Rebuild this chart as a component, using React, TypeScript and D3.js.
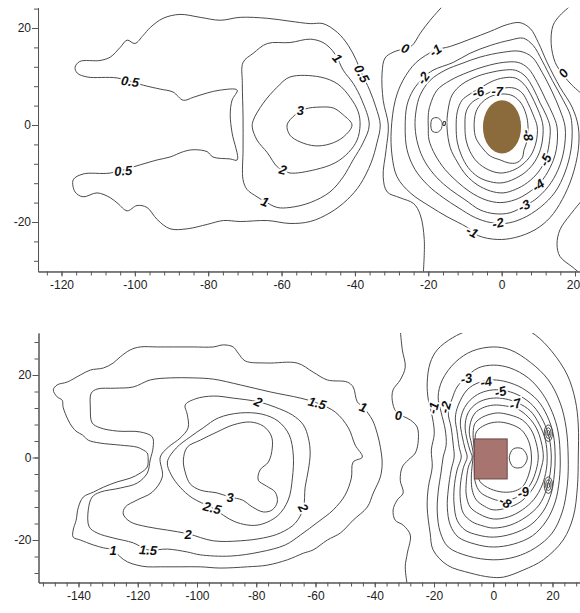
import React, { useEffect, useRef } from "react";
import * as d3 from "d3";

type Pt = [number, number];

const FONT = "'Liberation Sans', Arial, sans-serif";

// ---------- upper panel: round pile ----------
const topXLabels = [-120, -100, -80, -60, -40, -20, 0, 20];
const topYLabels = [-20, 0, 20];
const topXExtent = [-126.4, 21.5];
const topYExtent = [-30.2, 24.2];

const topC05: Pt[] = [[-33.1,0],[-34.3,3.7],[-36,7.2],[-38.3,10.9],[-39.6,13.3],[-41.8,16.4],[-44.8,19.1],[-48.7,20.9],[-52.2,20.9],[-57.7,21.4],[-63.9,22],[-71.3,22.2],[-76.7,21.6],[-82.2,22.2],[-87.7,22.8],[-92.3,22],[-95.8,20.1],[-97.7,18.5],[-100,16.8],[-102.1,17.5],[-104,16],[-106.7,14],[-109.5,13.3],[-115,13.1],[-116.3,11.9],[-115.7,10.7],[-113,9.9],[-104.8,9.7],[-97.7,8.2],[-93.1,7.4],[-89.6,6.8],[-86.8,5.1],[-84.1,5.7],[-80.3,6.6],[-76.7,7.2],[-72.1,7.2],[-73.5,5.1],[-74,2.1],[-73.5,-1.6],[-72.1,-7.2],[-74,-7],[-78.7,-6.6],[-80.3,-5.5],[-84.1,-5.1],[-86.8,-5.5],[-90.4,-6.6],[-93.9,-7.2],[-98.5,-8.2],[-106.7,-9.9],[-114.1,-10.1],[-116.8,-11.3],[-116.3,-13.8],[-114.1,-14.8],[-110.3,-14],[-106.7,-15],[-104.6,-16.2],[-102.1,-17.7],[-99.4,-16.6],[-96.7,-17],[-93.9,-19.5],[-90.4,-21.4],[-85.7,-21.4],[-80.3,-20.5],[-75.9,-19.7],[-71.3,-19.9],[-63.9,-19.7],[-57.7,-20.3],[-52.2,-19.9],[-46.8,-18.1],[-42.1,-15.4],[-38.6,-12.3],[-35.6,-7.8],[-34,-3.7]];
const topC1: Pt[] = [[-57.7,17],[-52.2,17.7],[-48.7,17],[-46.2,15.4],[-44.8,13.8],[-43.2,11.3],[-40.5,8.6],[-38.1,5.1],[-36.1,0],[-37.8,-3.7],[-40.5,-7.2],[-43.2,-10.7],[-46.8,-13.8],[-52.2,-16],[-57.7,-17],[-61.2,-17],[-64.5,-15.8],[-66.7,-14.8],[-69.4,-13.3],[-70.5,-11.3],[-70.5,-5.1],[-70.5,1.6],[-70.7,8.6],[-70.5,12.9],[-67.7,14.8],[-63.9,16.8]];
const topC2: Pt[] = [[-57.7,9.9],[-49.5,9.9],[-44.6,8.4],[-41.3,5.7],[-39.1,2.7],[-38.6,0],[-39.4,-3.1],[-41.8,-5.7],[-45.4,-7.8],[-50.8,-9.2],[-57.7,-9.9],[-59.6,-9.2],[-61.2,-8.6],[-63.9,-5.7],[-66.7,-3.1],[-68,-0.4],[-67.7,1],[-65,4.5],[-61.2,7.8]];
const topC3: Pt[] = [[-58.5,0],[-56.3,2.1],[-53.6,3.3],[-49.5,3.7],[-45.9,3.5],[-43.2,2.1],[-40.8,0],[-43.2,-2.5],[-46.8,-3.9],[-50.8,-4.3],[-54.9,-3.5],[-57.7,-2.1]];
const topZeroLeft: Pt[] = [[-15.5,25],[-19.5,21.6],[-22.2,18.9],[-24.4,16.4],[-26.3,15.8],[-29.6,15],[-31.8,13.8],[-32.6,10.7],[-32.3,5.1],[-30.9,0],[-31.5,-5.1],[-32.3,-10.7],[-31.2,-13.8],[-27.7,-15],[-24,-16.2],[-22.2,-18.5],[-21.1,-23.6],[-21.4,-31]];
const topZeroRightA: Pt[] = [[19.5,25],[15.9,22.6],[14,20.5],[13.5,16.8],[14.6,12.9],[16.8,10.3],[19.2,8.2],[22.5,6]];
const topZeroRightB: Pt[] = [[22.5,-15],[18.7,-18.5],[15.9,-21.6],[15.1,-24.6],[15.9,-27.1],[19.5,-29.4],[22,-31]];
const topM1: Pt[] = [[-18.1,15.4],[-14,16.2],[-8.6,17.7],[-3.1,19.3],[1.5,20.7],[5,21.1],[7.8,19.9],[10,17],[12.4,12.9],[15.9,7.8],[19.2,3.7],[20.9,-0.4],[20.9,-5.1],[19.2,-10.7],[16.5,-15.4],[13.2,-19.1],[9.1,-21.6],[3.7,-23.2],[-1.2,-23.6],[-6.4,-22.8],[-9.4,-21.1],[-14.9,-18.9],[-19.5,-16.8],[-24.9,-14],[-28.5,-10.7],[-29.9,-6.2],[-30.1,-1],[-29,5.1],[-26.9,9.2],[-23.3,12.9]];
const topM2: Pt[] = [[-21.4,9.7],[-18.7,11.3],[-13.2,12.9],[-8.6,14.8],[-3.1,16.4],[2.3,17.5],[5.9,17.9],[8.6,16.4],[11,13.3],[13.8,9.2],[16.8,5.1],[18.7,2.1],[19.2,-0.4],[18.9,-5.1],[17.3,-9.7],[14.6,-13.8],[10.5,-17],[5.6,-19.3],[1,-20.3],[-3.1,-20.1],[-7.2,-19.1],[-11.9,-17],[-15.9,-15],[-20,-12.5],[-23.6,-9.2],[-25.8,-5.1],[-26.3,-0.4],[-25.8,4.1],[-24.1,7.2]];
const topM3: Pt[] = [[-22.2,6.2],[-19.5,9.2],[-15.4,11.3],[-10.8,12.7],[-5.9,14],[0.4,15],[5,15.2],[8.3,14],[11,10.9],[13.8,6.8],[15.9,3.1],[17.3,-0.4],[17,-5.1],[15.4,-9.2],[12.7,-12.7],[9.1,-15.4],[6.4,-16.6],[2.3,-18.1],[-1.8,-18.3],[-5.9,-17.5],[-10,-15.4],[-14,-13.3],[-17.6,-10.9],[-20.9,-7.6],[-22.8,-4.1],[-23.6,-0.4],[-23.3,3.1]];
const topM4: Pt[] = [[-19.5,4.1],[-17.6,7.2],[-14,9.2],[-9.1,10.9],[-4.5,12.1],[0.4,12.9],[4.5,12.9],[7.2,11.7],[9.7,8.8],[12.1,5.1],[14,2.1],[15.1,-0.4],[14.9,-5.1],[13.2,-8.8],[10.5,-11.9],[7.2,-14],[3.7,-15.4],[-0.4,-16],[-4.5,-15.4],[-8.6,-13.8],[-12.1,-11.7],[-15.4,-9.2],[-18.1,-6.2],[-19.8,-3.1],[-20,-0.4],[-20,2.1]];
const topM5: Pt[] = [[-14.6,3.1],[-13.5,6.2],[-10.8,8.4],[-6.4,10.1],[-2.6,10.9],[0.4,11.3],[3.7,11.3],[6.4,10.1],[8.6,7.6],[10.5,4.5],[12.1,2.1],[13.2,-0.4],[12.9,-4.1],[11.9,-7.2],[10,-9.7],[7,-11.9],[3.7,-13.3],[0.4,-14],[-3.1,-13.6],[-6.7,-12.3],[-9.7,-10.3],[-12.1,-7.6],[-14,-4.7],[-14.9,-0.4]];
const topM6: Pt[] = [[-12.4,-0.4],[-12.1,2.7],[-10.8,5.1],[-8.6,6.4],[-5.9,7.6],[-2.6,9],[0.4,9.7],[3.7,9.7],[6.1,8.4],[8,6.2],[9.7,3.5],[10.8,1.4],[11.3,-0.4],[11,-3.7],[10,-6.2],[8,-8.6],[5,-10.5],[0.4,-11.9],[-3.1,-11.7],[-6.4,-10.7],[-9.1,-8.8],[-11,-6.2],[-12.1,-3.5]];
const topM7: Pt[] = [[-10,-0.4],[-9.7,2.7],[-8.3,4.5],[-5.9,5.7],[-3.1,6.8],[0.4,7.6],[3.4,7.6],[5.6,6.6],[7.2,4.5],[8.6,2.1],[9.7,-0.4],[9.4,-3.5],[8,-6.2],[5.6,-8.2],[2.9,-9.4],[-0.4,-9.9],[-3.7,-9.2],[-6.7,-7.6],[-8.6,-5.5],[-9.7,-3.1]];
const topM8: Pt[] = [[-7.5,-0.4],[-7,2.7],[-5.3,4.7],[-2.6,6],[0.4,6.4],[3.1,6],[5.3,4.5],[6.7,2.1],[7.2,-0.4],[7,-3.1],[6.1,-5.1],[5.6,-6.8],[4,-7.8],[1.8,-7.8],[-0.4,-7.2],[-3.1,-6.4],[-5.3,-4.7],[-7,-2.7]];
const topDLoop: Pt[] = [[-19,1.2],[-17.5,1.5],[-16.4,0.7],[-16.4,-0.7],[-17.5,-1.5],[-19,-1.2]];

const topLabels = [
  { t: "0.5", x: -101.3, y: 9.0, r: 8 },
  { t: "0.5", x: -103.2, y: -9.4, r: -4 },
  { t: "0.5", x: -38.1, y: 10.6, r: 62 },
  { t: "1", x: -44.8, y: 13.8, r: 50 },
  { t: "1", x: -64.5, y: -15.8, r: 20 },
  { t: "2", x: -59.6, y: -9.2, r: 15 },
  { t: "3", x: -54.9, y: 3.1, r: 0 },
  { t: "0", x: -26.3, y: 15.8, r: 20 },
  { t: "-1", x: -18.1, y: 15.4, r: -35 },
  { t: "-2", x: -21.4, y: 9.7, r: -55 },
  { t: "-6", x: -6.4, y: 6.8, r: -15 },
  { t: "-7", x: -1.2, y: 7.0, r: 0 },
  { t: "-8", x: 7.2, y: -2.1, r: 80 },
  { t: "-5", x: 11.9, y: -7.2, r: -65 },
  { t: "-4", x: 9.9, y: -12.4, r: -35 },
  { t: "-3", x: 6.1, y: -16.6, r: -25 },
  { t: "-2", x: -1.0, y: -20.2, r: -12 },
  { t: "-1", x: -8.0, y: -22.0, r: 28 },
  { t: "0", x: 16.8, y: 10.7, r: -55 },
  { t: "0", x: -15.7, y: 0.3, r: 0, s: 8 },
];
const topPile = { cx: 0.1, cy: -0.4, rx: 5.2, ry: 5.5 };

// ---------- lower panel: square pile ----------
const botXLabels = [-140, -120, -100, -80, -60, -40, -20, 0, 20];
const botYLabels = [-20, 0, 20];
const botXExtent = [-153.5, 29.5];
const botYExtent = [-30.3, 30.2];

const botC1: Pt[] = [[-148.5,16.4],[-147.2,17.6],[-143.8,18.3],[-139.4,20],[-136,21.2],[-131.6,21.7],[-128.3,22.9],[-125.9,24.4],[-122.5,26.1],[-119.2,26.8],[-113.4,26.8],[-108,26.8],[-101.3,26.8],[-94.5,26.8],[-91.1,27.3],[-87.8,26.8],[-86.1,25.3],[-83.7,23.4],[-76.3,22.9],[-66.2,22.9],[-60.8,20.7],[-56,18.8],[-49.3,18.3],[-47.3,17.1],[-45.9,13.5],[-43.9,12.2],[-40.8,9.1],[-39.2,5.9],[-38.1,2.5],[-37.5,-1.3],[-38.1,-4.7],[-40.5,-8.6],[-42.5,-12],[-47.3,-15.2],[-51.6,-18.3],[-56,-20],[-60.8,-22.4],[-64.1,-23.2],[-69.5,-24.8],[-76.3,-26.1],[-83,-26.5],[-92.2,-26.8],[-98.9,-26.5],[-105.7,-26.5],[-112.4,-26.5],[-116.8,-26.5],[-120.2,-26.1],[-123.5,-25.3],[-125.9,-24.1],[-128.3,-22.4],[-131.6,-21.9],[-135,-21.2],[-139.4,-20],[-141.8,-19.3],[-141.8,-17.6],[-140.8,-15.2],[-140.1,-12.2],[-138.4,-9.6],[-135,-8.4],[-131.6,-7.2],[-126.9,-5.9],[-122.5,-5],[-119.2,-3.8],[-116.8,-2.3],[-116.5,-0.1],[-116.8,1.1],[-118.1,1.8],[-120.2,2.5],[-125.9,3],[-132.7,3.5],[-136.7,4.2],[-138.7,5.5],[-140.5,6.2],[-142.1,7.4],[-143.5,9.1],[-145.2,12.2],[-145.5,13.9],[-147.2,14.7]];
const botC15: Pt[] = [[-115.8,18.8],[-109,19.3],[-101.3,19.3],[-94.5,19],[-85.4,17.6],[-75.3,15.9],[-65.1,14.4],[-59.4,13.2],[-53.3,11],[-48.9,7.2],[-46.6,3],[-44.2,0.1],[-47.3,-1.1],[-47.9,-5],[-50,-9.1],[-54,-12.7],[-59.1,-15.6],[-65.1,-18.8],[-70.2,-21.2],[-78.7,-22.9],[-88.8,-23.9],[-98.9,-23.6],[-103.3,-22.9],[-110,-22.2],[-116.5,-22.4],[-121.5,-20.7],[-128.3,-19.5],[-133.7,-18.3],[-136.4,-16.8],[-136.7,-12.7],[-135.4,-9.6],[-132.7,-8.4],[-125.9,-7.4],[-120.2,-6.2],[-116.8,-3.8],[-115.8,-0.6],[-114.8,2.5],[-115.1,5],[-119.2,6.2],[-126.9,6.4],[-132.7,7.2],[-135.4,8.4],[-136,12],[-135.7,15.6],[-133.7,16.6],[-127.6,16.8],[-121.5,17.1]];
const botC2: Pt[] = [[-112.4,0.1],[-109.7,2.5],[-105.7,4.7],[-103,7.2],[-103.3,10.5],[-104,12.7],[-100.6,14.2],[-94.5,14.9],[-87.8,14.4],[-79.3,13.5],[-73.6,12.2],[-67.8,10.3],[-64.1,7.9],[-62.4,4.7],[-61.8,1.1],[-62.4,-3],[-63.5,-7.2],[-64.1,-12.2],[-66.8,-15.9],[-71.9,-18.3],[-77.6,-19.5],[-85.4,-20.2],[-94.5,-20.2],[-103,-18.5],[-110,-17.6],[-116.8,-16.8],[-122.5,-15.6],[-124.9,-13.7],[-124.2,-12],[-120.2,-10.3],[-115.1,-8.4],[-111.7,-4.7]];
const botC25: Pt[] = [[-110,-1.1],[-107,2.3],[-102.3,5],[-97.9,7.2],[-92.8,9.6],[-85.4,10.8],[-78,10.5],[-72.6,8.8],[-68.9,5.5],[-67.5,0.6],[-67.8,-5],[-69.2,-10.3],[-72.9,-14.2],[-79.7,-16.4],[-87.1,-15.6],[-94.9,-12.2],[-101.6,-9.8],[-105.7,-7.2],[-108.7,-4.2]];
const botC3: Pt[] = [[-104.6,-0.6],[-103.3,2.5],[-98.9,4.2],[-93.2,6.2],[-87.8,7.9],[-82,8.6],[-77.6,7.6],[-74.9,5.2],[-74.6,2.3],[-75.9,-1.1],[-78.7,-3],[-79.3,-5.5],[-76.6,-6.9],[-73.6,-8.4],[-72.9,-10.8],[-74.6,-12.7],[-77.6,-13.2],[-81.3,-12],[-84.7,-10.3],[-88.8,-9.6],[-93.2,-8.6],[-98.9,-7.9],[-102.3,-6.4],[-104,-3.5]];
const botZero: Pt[] = [[-31.4,31],[-30.7,26.1],[-29.7,21.9],[-31.4,18.8],[-33.8,16.4],[-34.1,13.9],[-32.7,11],[-28,9.1],[-25.7,7.4],[-25.3,4.2],[-26.3,1.1],[-28.7,-0.6],[-30.7,-2.3],[-31.4,-5.5],[-30.4,-8.6],[-32.4,-10.3],[-33.8,-12.7],[-33.1,-15.2],[-30.4,-16.4],[-28,-18.8],[-29,-23.2],[-29.7,-26.5],[-29,-31]];
const botM1: Pt[] = [[-21.3,22.9],[-22.3,18.1],[-21.9,13.9],[-20.9,11],[-19.9,5.9],[-20.9,1.8],[-20.6,-2.3],[-21.9,-7.2],[-22.3,-12],[-21.3,-18.3],[-20.3,-22.4],[-15.5,-26.1],[-7.8,-28],[-1,-29],[3.4,-29],[10.1,-27.3],[16.9,-24.8],[23.6,-20],[27,-14.4],[28.4,-7.2],[28.7,0.1],[28.7,7.9],[27.7,13.9],[25,20],[19.9,25.6],[14.2,29.7],[7.4,32.1],[-1,31.6],[-7.8,30.9],[-13.8,29],[-18.9,26.1]];
const botM2: Pt[] = [[-17.2,18.8],[-18.6,14.7],[-17.6,11],[-16.2,6.7],[-15.9,3],[-16.9,0.1],[-17.6,-3.5],[-18.6,-8.4],[-18.9,-13.2],[-17.9,-18.1],[-15.2,-21.7],[-8.4,-23.9],[0,-24.8],[7.4,-24.1],[14.2,-21.9],[19.9,-18.3],[23.3,-13.2],[25,-6.7],[25.3,0.1],[24.6,7.2],[22.6,13.2],[18.6,18.8],[12.5,23.1],[5.7,26.1],[0,26.8],[-7.1,25.8],[-12.8,23.1]];
const botM3: Pt[] = [[-13.8,14.4],[-15.2,11],[-14.2,7.2],[-13.5,3],[-13.2,0.1],[-14.2,-3],[-15.2,-7.9],[-15.5,-12.2],[-14.5,-16.4],[-11.8,-19.3],[-6.1,-21],[0,-21.7],[6.8,-21],[13.2,-19],[17.9,-15.4],[20.9,-10.8],[22.3,-5.5],[22.6,0.1],[21.9,6.2],[19.9,11],[16.5,15.6],[11.8,19.3],[5.7,21.7],[0,22.4],[-5.1,21.7],[-9.1,19.5],[-12.2,17.1]];
const botM4: Pt[] = [[-11.8,12.7],[-12.8,9.6],[-12.2,6.2],[-11.5,2.5],[-10.8,0.1],[-12.2,-3],[-13.2,-7.4],[-13.2,-11.5],[-12.2,-15.2],[-9.5,-17.6],[-5.1,-18.8],[0,-19.3],[6.4,-18.5],[12.5,-16.4],[16.9,-13],[19.6,-8.6],[20.6,-4.2],[20.9,0.1],[20.3,5.5],[18.2,10.1],[14.9,13.9],[9.8,16.8],[4.7,18.3],[0,18.8],[-5.1,18.1],[-8.8,16.4]];
const botM5: Pt[] = [[-10.1,11.5],[-11.1,8.6],[-10.5,5.2],[-9.5,2.1],[-8.8,0.1],[-10.1,-2.5],[-11.1,-6.7],[-11.1,-10.3],[-10.1,-13.5],[-7.1,-15.6],[-3.4,-16.6],[0,-17.1],[5.7,-16.4],[11.1,-14.4],[15.5,-11.5],[17.9,-7.9],[19.2,-3.8],[19.6,0.1],[18.9,4.7],[16.9,8.8],[13.5,12.5],[9.1,14.9],[4.7,16.1],[0,16.4],[-4.4,15.6],[-7.8,13.9]];
const botM6: Pt[] = [[-8.8,10.3],[-9.5,7.4],[-8.8,4.2],[-7.8,1.6],[-7.1,0.1],[-8.4,-2.3],[-9.1,-5.9],[-9.1,-9.1],[-7.8,-12],[-4.7,-13.7],[0,-14.9],[5.1,-14.4],[9.8,-12.7],[13.8,-10.1],[16.5,-6.7],[17.9,-3],[18.2,0.1],[17.6,4.2],[15.5,8.1],[12.5,11.3],[8.4,13.2],[4.1,14.2],[0,14.4],[-4.1,13.7],[-7.1,12.2]];
const botM7: Pt[] = [[-7.4,9.1],[-8.1,6.2],[-7.4,3.5],[-6.8,1.3],[-6.8,0.1],[-7.1,-1.8],[-7.4,-5],[-7.1,-7.9],[-5.7,-10.3],[-3,-11.8],[0,-12.7],[4.7,-12.2],[9.1,-10.8],[12.5,-8.4],[14.9,-5.5],[16.2,-2.5],[16.9,0.1],[16.2,3.8],[14.5,7.2],[11.8,9.8],[8.1,11.8],[4.1,12.5],[0,12.7],[-3.7,12],[-6.1,10.8]];
const botM8: Pt[] = [[-6.4,7.9],[-6.8,4.9],[-6.4,1.8],[-6.4,-3],[-6.1,-5.9],[-4.4,-8.4],[-1,-9.8],[2.4,-10.5],[6.4,-10.1],[10.1,-8.6],[12.8,-6.2],[14.5,-3],[15.2,0.1],[14.5,3.5],[12.8,6.7],[9.8,9.1],[5.7,10.3],[1.4,10.8],[-2.7,10.1],[-5.1,9.1]];
const botM9: Pt[] = [[-5.7,6.2],[-6.1,3],[-5.7,-3],[-4.4,-5.9],[-1,-7.6],[3.4,-8.4],[7.4,-8.1],[10.1,-6.9],[11.8,-4.5],[12.8,-1.6],[12.8,1.3],[11.8,4.2],[9.5,6.7],[5.7,8.1],[1.4,8.6],[-2.7,7.9]];
const botCore: Pt[] = [[6.8,2.1],[9.8,2.1],[11.5,-0.1],[9.8,-2.3],[6.8,-2.3],[5.4,-0.1]];
const botBumps = [
  { cx: 18.6, cy: 5.9 },
  { cx: 18.6, cy: -6.7 },
];
const bumpRadii: Pt[] = [[1.4, 2.0], [0.9, 1.3], [0.45, 0.65]];

const botLabels = [
  { t: "1", x: -128.3, y: -22.4, r: 0 },
  { t: "1.5", x: -116.5, y: -22.4, r: 4 },
  { t: "2", x: -103, y: -18.5, r: 0 },
  { t: "2.5", x: -94.9, y: -12.2, r: 15 },
  { t: "3", x: -88.8, y: -9.6, r: 0 },
  { t: "2", x: -79.3, y: 13.5, r: 25 },
  { t: "1.5", x: -59.4, y: 13.2, r: 15 },
  { t: "1", x: -43.9, y: 12.2, r: 20 },
  { t: "2", x: -64.1, y: -12.2, r: 60 },
  { t: "0", x: -32, y: 10.3, r: 0 },
  { t: "-1", x: -20.3, y: 12, r: -75 },
  { t: "-2", x: -16.2, y: 12.2, r: -75 },
  { t: "-3", x: -9.1, y: 19.2, r: -10 },
  { t: "-4", x: -2.4, y: 18.4, r: -10 },
  { t: "-5", x: 2.4, y: 16.0, r: -15 },
  { t: "-7", x: 7.4, y: 13.0, r: -15 },
  { t: "-8", x: 4.1, y: -10.8, r: 30 },
  { t: "-9", x: 10.1, y: -8.4, r: -15 },
];
const botPile = { x0: -6.4, x1: 4.7, y0: -5.2, y1: 4.5 };

// pixel frame of each panel (where -120/20 resp. -140/20 and -20/20 fall)
const topX = d3.scaleLinear().domain([-120, 20]).range([61.5, 575]);
const topY = d3.scaleLinear().domain([-20, 20]).range([222, 28]);
const botX = d3.scaleLinear().domain([-140, 20]).range([78.5, 552.5]);
const botY = d3.scaleLinear().domain([-20, 20]).range([540, 375]);

const topPanel = {
  id: "top",
  xs: topX, ys: topY,
  xExt: topXExtent, yExt: topYExtent,
  xLabels: topXLabels, yLabels: topYLabels,
  closed: [topC05, topC1, topC2, topC3, topM1, topM2, topM3, topM4, topM5, topM6, topM7, topM8, topDLoop],
  open: [topZeroLeft, topZeroRightA, topZeroRightB],
  labels: topLabels,
};
const botPanel = {
  id: "bot",
  xs: botX, ys: botY,
  xExt: botXExtent, yExt: botYExtent,
  xLabels: botXLabels, yLabels: botYLabels,
  closed: [botC1, botC15, botC2, botC25, botC3, botM1, botM2, botM3, botM4, botM5, botM6, botM7, botM8, botM9, botCore],
  open: [botZero],
  labels: botLabels,
};

const SVG_W = 580;

function Panel({ cfg, children }: any) {
  const axisRef = useRef<SVGGElement>(null);
  const { xs, ys, xExt, yExt } = cfg;

  useEffect(() => {
    const g = d3.select(axisRef.current);
    g.selectAll("*").remove();
    const xa = xs.copy().domain(xExt).range(xExt.map(xs));
    const ya = ys.copy().domain(yExt).range(yExt.map(ys));
    const minorX = d3.range(Math.ceil(xExt[0] / 4) * 4, xExt[1], 4);
    const minorY = d3.range(Math.ceil(yExt[0] / 4) * 4, yExt[1], 4);
    const fmt = (d: any) => String(d);

    const gx = g.append("g").attr("transform", `translate(0,${ys(yExt[0])})`);
    gx.append("g").call(d3.axisBottom(xa).tickValues(minorX).tickSize(4).tickSizeOuter(0).tickFormat(() => ""));
    const major = gx.append("g").call(d3.axisBottom(xa).tickValues(cfg.xLabels).tickSize(5).tickSizeOuter(0).tickPadding(4).tickFormat(fmt));
    // keep the last label inside the picture
    major.selectAll(".tick text").attr("dx", (d: any) => Math.min(0, SVG_W - 7 - xs(d)));

    const gy = g.append("g").attr("transform", `translate(${xs(xExt[0])},0)`);
    gy.append("g").call(d3.axisLeft(ya).tickValues(minorY).tickSize(4).tickSizeOuter(0).tickFormat(() => ""));
    gy.append("g").call(d3.axisLeft(ya).tickValues(cfg.yLabels).tickSize(6).tickSizeOuter(0).tickPadding(1).tickFormat(fmt));

    g.selectAll("path.domain").attr("stroke", "#555").attr("stroke-width", 1);
    g.selectAll(".tick line").attr("stroke", "#555");
    g.selectAll(".tick text").attr("font-family", FONT).attr("font-size", 12).attr("fill", "#222");
  }, [cfg]);

  const closedLine = d3.line<Pt>().x((d) => xs(d[0])).y((d) => ys(d[1])).curve(d3.curveCatmullRomClosed.alpha(0.5));
  const openLine = d3.line<Pt>().x((d) => xs(d[0])).y((d) => ys(d[1])).curve(d3.curveCatmullRom.alpha(0.5));
  const x0 = xs(xExt[0]), x1 = xs(xExt[1]);
  const y0 = ys(yExt[1]), y1 = ys(yExt[0]);

  return (
    <g>
      <defs>
        <clipPath id={`clip-${cfg.id}`}>
          <rect x={x0} y={y0} width={x1 - x0} height={y1 - y0} />
        </clipPath>
      </defs>
      <g clipPath={`url(#clip-${cfg.id})`} fill="none" stroke="#4a4a4a" strokeWidth={1}>
        {cfg.closed.map((pts: Pt[], i: number) => (
          <path key={"c" + i} d={closedLine(pts) || ""} />
        ))}
        {cfg.open.map((pts: Pt[], i: number) => (
          <path key={"o" + i} d={openLine(pts) || ""} />
        ))}
        {children}
      </g>
      <g fontFamily={FONT} fontWeight="bold" fontStyle="italic" fill="#111" stroke="#fff" paintOrder="stroke" textAnchor="middle">
        {cfg.labels.map((l: any, i: number) => (
          <text
            key={i}
            transform={`translate(${xs(l.x)},${ys(l.y)}) rotate(${l.r})`}
            dy="0.36em"
            fontSize={l.s || 13}
            strokeWidth={l.s ? 1.5 : 3.5}
          >
            {l.t}
          </text>
        ))}
      </g>
      <g ref={axisRef} />
    </g>
  );
}

export default function App() {
  return (
    <svg
      width={580}
      height={613}
      style={{ position: "absolute", left: 0, top: 0, background: "#fff" }}
    >
      <rect width={580} height={613} fill="#fff" />
      <Panel cfg={topPanel}>
        <ellipse
          cx={topX(topPile.cx)}
          cy={topY(topPile.cy)}
          rx={topX(topPile.rx) - topX(0)}
          ry={topY(0) - topY(topPile.ry)}
          fill="#8b6a3c"
          stroke="none"
        />
      </Panel>
      <Panel cfg={botPanel}>
        {botBumps.map((b, i) =>
          bumpRadii.map((r, j) => (
            <ellipse
              key={i + "-" + j}
              cx={botX(b.cx)}
              cy={botY(b.cy)}
              rx={botX(r[0]) - botX(0)}
              ry={botY(0) - botY(r[1])}
            />
          ))
        )}
        <rect
          x={botX(botPile.x0)}
          y={botY(botPile.y1)}
          width={botX(botPile.x1) - botX(botPile.x0)}
          height={botY(botPile.y0) - botY(botPile.y1)}
          fill="#a87470"
          stroke="#6b4744"
          strokeWidth={1}
        />
      </Panel>
    </svg>
  );
}
